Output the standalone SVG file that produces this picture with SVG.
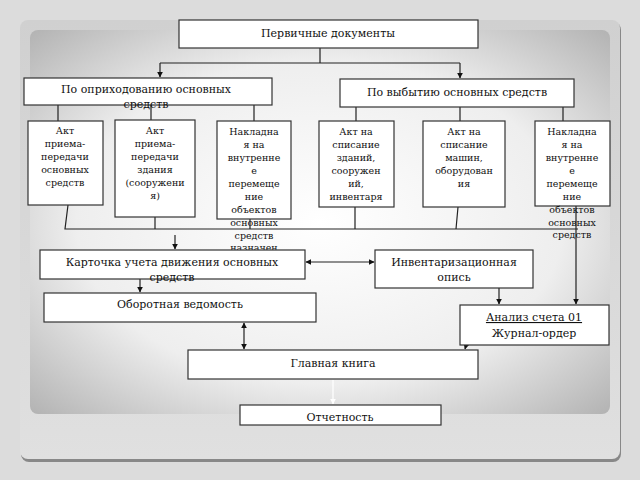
<svg xmlns="http://www.w3.org/2000/svg" width="640" height="480" viewBox="0 0 640 480">
<defs>
<radialGradient id="g" cx="0.5" cy="0.5" r="0.7"><stop offset="0" stop-color="#ffffff"/><stop offset="0.6" stop-color="#eeeeee"/><stop offset="1" stop-color="#b4b4b4"/></radialGradient>
<linearGradient id="o" x1="0" y1="0" x2="0" y2="1"><stop offset="0" stop-color="#d0d0d0"/><stop offset="1" stop-color="#e0e0e0"/></linearGradient>
<marker id="a" viewBox="0 0 10 10" refX="9" refY="5" markerWidth="5" markerHeight="5" orient="auto-start-reverse"><path d="M0,0L10,5L0,10z" fill="#111"/></marker>
<marker id="w" viewBox="0 0 10 10" refX="9" refY="5" markerWidth="5" markerHeight="5" orient="auto"><path d="M0,0L10,5L0,10z" fill="#fff"/></marker>
</defs>
<style>
rect.b{fill:#fff;stroke:#333;stroke-width:1.2}
text{font-family:"DejaVu Serif","Liberation Serif",serif;font-size:11px;fill:#111;text-anchor:middle}
text.s{font-size:9.5px}
.c line,.c path{stroke:#222;stroke-width:1.2;fill:none}
</style>
<rect width="640" height="480" fill="#dcdcdc"/>
<rect x="21" y="22" width="600" height="440" rx="8" fill="#888"/>
<rect x="20" y="20" width="600" height="439" rx="8" fill="url(#o)"/>
<rect x="30" y="30" width="580" height="384" rx="8" fill="url(#g)"/>
<g class="c">
<path d="M320,48V63M160,63H460"/>
<line x1="160" y1="63" x2="160" y2="77" marker-end="url(#a)"/>
<line x1="460" y1="63" x2="460" y2="78" marker-end="url(#a)"/>
<path d="M58,105V121M151,105V120M254,105V121M356,107V121M460,107V121M563,107V121"/>
<path d="M68,205L65,229H578M155,217V229M250,219V229M355,207V229M458,207L456,229"/>
<line x1="576" y1="206" x2="576" y2="304" marker-end="url(#a)"/>
<line x1="175" y1="235" x2="175" y2="249" marker-end="url(#a)"/>
<line x1="306" y1="262" x2="374" y2="262" marker-start="url(#a)" marker-end="url(#a)"/>
<line x1="140" y1="265" x2="140" y2="292" marker-end="url(#a)"/>
<line x1="244" y1="323" x2="244" y2="349" marker-start="url(#a)" marker-end="url(#a)"/>
<line x1="499" y1="280" x2="499" y2="304" marker-end="url(#a)"/>
<line x1="469" y1="335" x2="465" y2="349" marker-end="url(#a)"/>
<line x1="333" y1="380" x2="333" y2="404" stroke="#fff" style="stroke:#fff" marker-end="url(#w)"/>
</g>
<g id="n0"><rect class="b" x="179" y="20" width="299" height="28"/><text x="328" y="37">Первичные документы</text></g>
<g id="n1"><rect class="b" x="24" y="78" width="248" height="27"/><text x="146" y="93">По оприходованию основных</text><text x="146" y="108">средств</text></g>
<g id="n2"><rect class="b" x="340" y="79" width="234" height="28"/><text x="457" y="96">По выбытию основных средств</text></g>
<g id="n3"><rect class="b" x="28" y="121" width="75" height="84"/><text class="s" x="65" y="134">Акт</text><text class="s" x="65" y="147">приема-</text><text class="s" x="65" y="160">передачи</text><text class="s" x="65" y="173">основных</text><text class="s" x="65" y="186">средств</text></g>
<g id="n4"><rect class="b" x="115" y="120" width="80" height="97"/><text class="s" x="155" y="134">Акт</text><text class="s" x="155" y="147">приема-</text><text class="s" x="155" y="160">передачи</text><text class="s" x="155" y="173">здания</text><text class="s" x="155" y="186">(сооружени</text><text class="s" x="155" y="199">я)</text></g>
<g id="n5"><rect class="b" x="217" y="121" width="74" height="98"/><text class="s" x="254" y="135">Накладна</text><text class="s" x="254" y="148">я на</text><text class="s" x="254" y="161">внутренне</text><text class="s" x="254" y="174">е</text><text class="s" x="254" y="187">перемеще</text><text class="s" x="254" y="200">ние</text><text class="s" x="254" y="213">объектов</text><text class="s" x="254" y="226">основных</text><text class="s" x="254" y="239">средств</text><text class="s" x="254" y="251">назначен</text></g>
<g id="n6"><rect class="b" x="319" y="121" width="75" height="86"/><text class="s" x="356" y="135">Акт на</text><text class="s" x="356" y="148">списание</text><text class="s" x="356" y="161">зданий,</text><text class="s" x="356" y="174">сооружен</text><text class="s" x="356" y="187">ий,</text><text class="s" x="356" y="200">инвентаря</text></g>
<g id="n7"><rect class="b" x="423" y="121" width="82" height="86"/><text class="s" x="464" y="135">Акт на</text><text class="s" x="464" y="148">списание</text><text class="s" x="464" y="161">машин,</text><text class="s" x="464" y="174">оборудован</text><text class="s" x="464" y="187">ия</text></g>
<g id="n8"><rect class="b" x="535" y="121" width="75" height="85"/><text class="s" x="572" y="135">Накладна</text><text class="s" x="572" y="148">я на</text><text class="s" x="572" y="161">внутренне</text><text class="s" x="572" y="174">е</text><text class="s" x="572" y="187">перемеще</text><text class="s" x="572" y="200">ние</text><text class="s" x="572" y="213">объектов</text><text class="s" x="572" y="226">основных</text><text class="s" x="572" y="238">средств</text></g>
<g id="n9"><rect class="b" x="40" y="250" width="265" height="29"/><text x="172" y="266">Карточка учета движения основных</text><text x="172" y="281">средств</text></g>
<g id="n10"><rect class="b" x="375" y="250" width="158" height="38"/><text x="454" y="266">Инвентаризационная</text><text x="454" y="281">опись</text></g>
<g id="n11"><rect class="b" x="44" y="293" width="272" height="29"/><text x="180" y="308">Оборотная ведомость</text></g>
<g id="n12"><rect class="b" x="460" y="305" width="149" height="40"/><text x="534" y="321" text-decoration="underline">Анализ счета 01</text><text x="534" y="337">Журнал-ордер</text></g>
<g id="n13"><rect class="b" x="188" y="350" width="290" height="29"/><text x="333" y="367">Главная книга</text></g>
<g id="n14"><rect class="b" x="240" y="405" width="201" height="20"/><text x="340" y="421">Отчетность</text></g>
</svg>
